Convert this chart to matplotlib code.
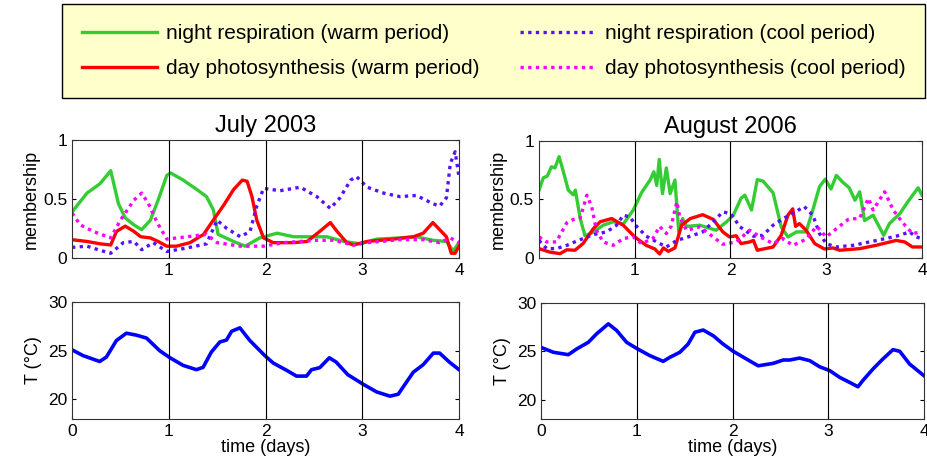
import numpy as np
import matplotlib.pyplot as plt

plt.rcParams['font.family'] = ['Liberation Sans', 'DejaVu Sans']

# ---- July 2003 membership (time in days, membership 0..1) ----
jul_green_t = [0, 0.155, 0.29, 0.40, 0.48, 0.55, 0.64, 0.72, 0.81, 0.89, 0.98, 1.02, 1.15, 1.29, 1.39,
               1.46, 1.51, 1.67, 1.79, 1.94, 2.12, 2.29, 2.50, 2.63, 2.81, 2.98, 3.15, 3.39, 3.56, 3.73,
               3.87, 3.94, 4.0]
jul_green = [0.39, 0.55, 0.63, 0.74, 0.46, 0.34, 0.28, 0.24, 0.32, 0.49, 0.70, 0.72, 0.66, 0.58, 0.52,
             0.41, 0.20, 0.14, 0.10, 0.17, 0.21, 0.18, 0.18, 0.18, 0.14, 0.12, 0.16, 0.17, 0.18, 0.15,
             0.14, 0.06, 0.13]

jul_red_t = [0, 0.155, 0.29, 0.40, 0.46, 0.55, 0.64, 0.71, 0.81, 0.89, 0.98, 1.08, 1.22, 1.36, 1.46,
             1.57, 1.67, 1.76, 1.81, 1.86, 1.91, 1.98, 2.08, 2.29, 2.43, 2.56, 2.67, 2.74, 2.84, 2.91,
             3.05, 3.32, 3.53, 3.63, 3.73, 3.80, 3.87, 3.92, 3.96, 4.0]
jul_red = [0.155, 0.14, 0.12, 0.11, 0.225, 0.27, 0.225, 0.18, 0.17, 0.14, 0.10, 0.10, 0.13, 0.20, 0.32,
           0.45, 0.58, 0.66, 0.65, 0.52, 0.32, 0.17, 0.13, 0.13, 0.14, 0.225, 0.30, 0.225, 0.13, 0.11,
           0.14, 0.16, 0.18, 0.21, 0.30, 0.24, 0.18, 0.04, 0.04, 0.10]

jul_blue_t = [0, 0.155, 0.29, 0.40, 0.53, 0.64, 0.72, 0.84, 0.98, 1.19, 1.39, 1.50, 1.60, 1.74, 1.84,
              1.91, 1.98, 2.15, 2.36, 2.53, 2.67, 2.77, 2.88, 2.94, 3.05, 3.22, 3.39, 3.56, 3.73, 3.80,
              3.87, 3.91, 3.96, 4.0]
jul_blue = [0.09, 0.10, 0.065, 0.04, 0.13, 0.14, 0.07, 0.13, 0.055, 0.085, 0.12, 0.32, 0.25, 0.18, 0.225,
            0.44, 0.59, 0.57, 0.60, 0.52, 0.42, 0.51, 0.66, 0.69, 0.60, 0.55, 0.52, 0.53, 0.46, 0.44,
            0.51, 0.80, 0.90, 0.69]

jul_mag_t = [0, 0.086, 0.22, 0.40, 0.50, 0.64, 0.72, 0.79, 0.88, 0.98, 1.19, 1.39, 1.50, 1.74, 1.98,
             2.19, 2.53, 2.70, 2.91, 3.05, 3.39, 3.63, 3.80, 3.91, 4.0]
jul_mag = [0.38, 0.28, 0.225, 0.17, 0.32, 0.49, 0.55, 0.46, 0.30, 0.16, 0.18, 0.20, 0.13, 0.10, 0.10,
           0.13, 0.15, 0.15, 0.11, 0.13, 0.155, 0.155, 0.13, 0.17, 0.13]

# ---- August 2006 membership ----
aug_green_t = [0, 0.045, 0.087, 0.13, 0.167, 0.21, 0.254, 0.306, 0.358, 0.38, 0.43, 0.48, 0.567, 0.67,
               0.776, 0.88, 0.985, 1.07, 1.16, 1.20, 1.23, 1.256, 1.29, 1.33, 1.37, 1.42, 1.46, 1.50,
               1.54, 1.68, 1.85, 1.96, 2.03, 2.11, 2.15, 2.22, 2.28, 2.34, 2.445, 2.53, 2.60, 2.69,
               2.79, 2.86, 2.93, 2.99, 3.05, 3.106, 3.17, 3.24, 3.30, 3.35, 3.40, 3.49, 3.60, 3.66,
               3.77, 3.84, 3.89, 3.96, 4.0]
aug_green = [0.58, 0.685, 0.70, 0.78, 0.77, 0.866, 0.74, 0.58, 0.54, 0.58, 0.34, 0.19, 0.22, 0.28,
             0.31, 0.29, 0.41, 0.557, 0.666, 0.737, 0.62, 0.843, 0.55, 0.77, 0.55, 0.666, 0.22, 0.337,
             0.27, 0.28, 0.237, 0.31, 0.366, 0.51, 0.537, 0.41, 0.67, 0.657, 0.557, 0.266, 0.18, 0.223,
             0.223, 0.41, 0.61, 0.674, 0.59, 0.706, 0.65, 0.60, 0.494, 0.566, 0.32, 0.366, 0.194, 0.294,
             0.38, 0.466, 0.523, 0.60, 0.537]

aug_red_t = [0, 0.115, 0.22, 0.29, 0.376, 0.46, 0.567, 0.64, 0.76, 0.88, 1.00, 1.12, 1.21, 1.26, 1.30,
             1.35, 1.42, 1.49, 1.58, 1.71, 1.82, 1.92, 1.99, 2.06, 2.11, 2.20, 2.24, 2.28, 2.445, 2.53,
             2.60, 2.65, 2.68, 2.72, 2.79, 2.88, 2.98, 3.07, 3.14, 3.35, 3.52, 3.73, 3.82, 3.90, 4.0]
aug_red = [0.08, 0.05, 0.037, 0.07, 0.066, 0.123, 0.25, 0.31, 0.337, 0.28, 0.18, 0.108, 0.077, 0.034,
           0.086, 0.057, 0.086, 0.28, 0.337, 0.37, 0.33, 0.223, 0.18, 0.19, 0.123, 0.137, 0.15, 0.066,
           0.094, 0.194, 0.366, 0.42, 0.27, 0.294, 0.237, 0.123, 0.077, 0.086, 0.066, 0.08, 0.108, 0.15,
           0.137, 0.094, 0.094]

aug_blue_t = [0, 0.08, 0.18, 0.29, 0.41, 0.567, 0.706, 0.81, 0.88, 0.95, 1.02, 1.12, 1.23, 1.33, 1.44,
              1.61, 1.71, 1.82, 1.92, 2.0, 2.10, 2.24, 2.34, 2.445, 2.55, 2.65, 2.77, 2.86, 2.93, 3.0,
              3.10, 3.28, 3.45, 3.62, 3.77, 3.87, 3.94, 4.0]
aug_blue = [0.15, 0.08, 0.08, 0.108, 0.15, 0.20, 0.223, 0.28, 0.366, 0.35, 0.27, 0.186, 0.137, 0.094,
            0.15, 0.194, 0.223, 0.31, 0.394, 0.38, 0.266, 0.186, 0.194, 0.28, 0.337, 0.38, 0.44, 0.366,
            0.209, 0.123, 0.094, 0.108, 0.137, 0.166, 0.194, 0.223, 0.18, 0.166]

aug_mag_t = [0, 0.08, 0.18, 0.29, 0.36, 0.43, 0.50, 0.55, 0.60, 0.67, 0.776, 0.88, 0.985, 1.07, 1.19,
             1.26, 1.33, 1.38, 1.44, 1.47, 1.54, 1.68, 1.82, 1.92, 2.06, 2.20, 2.31, 2.445, 2.55, 2.65,
             2.79, 2.90, 3.0, 3.106, 3.23, 3.35, 3.44, 3.49, 3.61, 3.70, 3.80, 3.90, 4.0]
aug_mag = [0.18, 0.137, 0.137, 0.30, 0.33, 0.34, 0.537, 0.44, 0.237, 0.137, 0.108, 0.166, 0.18, 0.123,
           0.166, 0.27, 0.209, 0.27, 0.48, 0.35, 0.237, 0.266, 0.18, 0.117, 0.137, 0.237, 0.18, 0.123,
           0.166, 0.108, 0.16, 0.27, 0.18, 0.25, 0.33, 0.34, 0.51, 0.41, 0.566, 0.41, 0.30, 0.209, 0.223]

# ---- temperature (deg C) ----
jul_temp_t = [0, 0.114, 0.286, 0.355, 0.459, 0.562, 0.666, 0.77, 0.907, 1.01, 1.148, 1.286, 1.355, 1.44,
              1.528, 1.597, 1.65, 1.735, 1.838, 1.993, 2.08, 2.217, 2.32, 2.424, 2.476, 2.56, 2.66, 2.73,
              2.85, 3.01, 3.148, 3.286, 3.372, 3.424, 3.528, 3.63, 3.735, 3.80, 3.90, 4.0]
jul_temp = [25.1, 24.5, 23.9, 24.35, 26.05, 26.8, 26.6, 26.3, 25.0, 24.3, 23.5, 23.06, 23.3, 24.86,
            25.9, 26.1, 27.0, 27.35, 26.05, 24.5, 23.74, 23.0, 22.4, 22.4, 23.06, 23.26, 24.28, 23.84,
            22.55, 21.56, 20.78, 20.34, 20.54, 21.3, 22.8, 23.57, 24.76, 24.76, 23.84, 23.06]

aug_temp_t = [0, 0.129, 0.285, 0.372, 0.494, 0.58, 0.703, 0.79, 0.894, 0.998, 1.137, 1.276, 1.346, 1.45,
              1.537, 1.607, 1.694, 1.80, 1.90, 2.007, 2.146, 2.268, 2.424, 2.53, 2.598, 2.70, 2.807,
              2.91, 3.016, 3.12, 3.224, 3.31, 3.363, 3.467, 3.57, 3.676, 3.746, 3.85, 4.0]
aug_temp = [25.4, 24.9, 24.65, 25.24, 25.93, 26.8, 27.84, 27.15, 25.93, 25.3, 24.55, 23.96, 24.38, 24.9,
            25.76, 26.97, 27.2, 26.6, 25.76, 25.0, 24.2, 23.5, 23.75, 24.1, 24.1, 24.3, 24.03, 23.4,
            23.0, 22.3, 21.78, 21.33, 22.0, 23.17, 24.2, 25.17, 25.0, 23.68, 22.47]

green = '#33cc33'
red = '#ff0000'
blue_dot = '#5511ff'
magenta = '#ff00ff'
dots = (0, (1, 1.3))

fig = plt.figure(figsize=(9.28, 4.66), dpi=100)


def style_axes(ax):
    ax.tick_params(direction='in', top=True, right=True, labelsize=12.5, length=3)
    for s in ax.spines.values():
        s.set_color('#333333')
    for d in [1, 2, 3]:
        ax.axvline(d, color='black', linewidth=0.8)
    ax.set_xlim(0, 4)


def membership(ax, data, title):
    gt, g, rt, r, bt, b, mt, m = data
    lg, = ax.plot(gt, g, color=green, lw=2.4, label='night respiration (warm period)')
    lr, = ax.plot(rt, r, color=red, lw=2.4, label='day photosynthesis (warm period)')
    lb, = ax.plot(bt, b, color=blue_dot, lw=2.4, ls=dots, label='night respiration (cool period)')
    lm, = ax.plot(mt, m, color=magenta, lw=2.4, ls=dots, label='day photosynthesis (cool period)')
    style_axes(ax)
    ax.set_ylim(0, 1)
    ax.set_yticks([0, 0.5, 1])
    ax.set_yticklabels(['0', '0.5', '1'])
    ax.set_xticks([1, 2, 3, 4])
    ax.set_ylabel('membership', fontsize=13, labelpad=2)
    ax.set_title(title, fontsize=17, pad=6)
    return lg, lr, lb, lm


def temperature(ax, t, temp):
    ax.plot(t, temp, color='#0000ff', lw=2.6)
    style_axes(ax)
    ax.set_ylim(18, 30)
    ax.set_yticks([20, 25, 30])
    ax.set_xticks([0, 1, 2, 3, 4])
    ax.set_ylabel('T (°C)', fontsize=13, labelpad=4)
    ax.set_xlabel('time (days)', fontsize=13, labelpad=0)


ax1 = fig.add_axes([0.0776, 0.4464, 0.417, 0.2532])
ax2 = fig.add_axes([0.5808, 0.4464, 0.4127, 0.2510])
ax3 = fig.add_axes([0.0776, 0.1009, 0.417, 0.2510])
ax4 = fig.add_axes([0.5830, 0.1009, 0.4127, 0.2490])

handles = membership(ax1, (jul_green_t, jul_green, jul_red_t, jul_red,
                           jul_blue_t, jul_blue, jul_mag_t, jul_mag), 'July 2003')
membership(ax2, (aug_green_t, aug_green, aug_red_t, aug_red,
                 aug_blue_t, aug_blue, aug_mag_t, aug_mag), 'August 2006')
temperature(ax3, jul_temp_t, jul_temp)
temperature(ax4, aug_temp_t, aug_temp)

leg = fig.legend(handles=list(handles), ncol=2, loc='upper left',
                 bbox_to_anchor=(0.0668, 0.796, 0.93, 0.1954), mode='expand',
                 borderaxespad=0, fontsize=15, handlelength=3.6, handletextpad=0.45,
                 columnspacing=0.2, borderpad=0.95, labelspacing=0.8,
                 fancybox=False, framealpha=1)
leg.get_frame().set_facecolor('#ffffcc')
leg.get_frame().set_edgecolor('black')

plt.savefig('out.png', dpi=100)
